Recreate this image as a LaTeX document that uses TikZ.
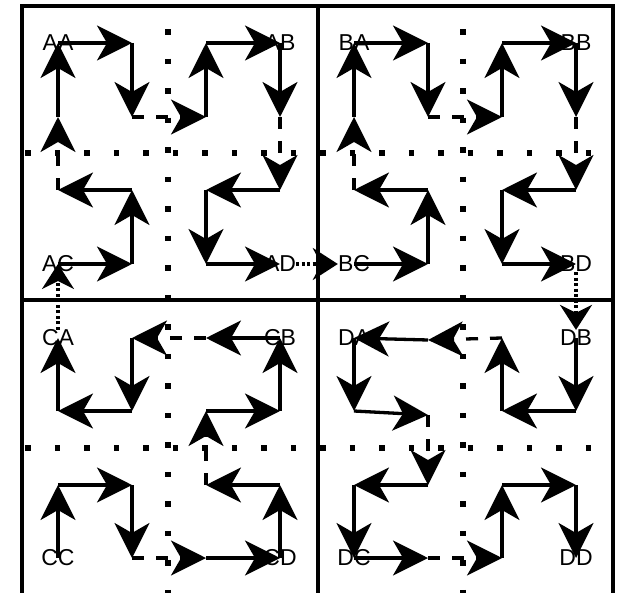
\documentclass[tikz,border=0pt]{standalone}
\usepackage{fontspec}
\setmainfont{Liberation Sans}
\usetikzlibrary{arrows.meta}
\begin{document}
\begin{tikzpicture}[x=1pt,y=-1pt,
  frame/.style={line width=3.4pt},
  gridline/.style={line width=5.5pt, dash pattern=on 5.5pt off 24pt},
  seg/.style={line width=3.3pt, -{Stealth[length=35pt,width=35pt,inset=10pt]}},
  dseg/.style={seg, dash pattern=on 12pt off 12pt},
  tseg/.style={line width=3.3pt, dash pattern=on 3pt off 2.5pt, -{Stealth[length=25pt,width=32pt,inset=8pt]}},
  lbl/.style={inner sep=0pt, font=\fontsize{23}{27}\selectfont}]
\useasboundingbox (0,0) rectangle (620,593);
% dotted grid lines
\draw[gridline] (168,29.25) -- (168,600);
\draw[gridline] (463,29.25) -- (463,600);
\draw[gridline] (25.25,153) -- (595,153);
\draw[gridline] (25.25,448) -- (595,448);
% frame
\draw[frame] (22,600) -- (22,6) -- (613,6) -- (613,600);
\draw[frame] (318,6) -- (318,600);
\draw[frame] (22,300) -- (613,300);
% grid points
\foreach \i/\x in {1/58,2/132,3/206,4/280,5/354,6/428,7/502,8/576}{
  \foreach \j/\y in {1/43,2/117,3/190,4/264,5/338,6/411,7/485,8/558}{
    \coordinate (p\i\j) at (\x,\y);
  }
}
\coordinate (p65) at (428,340);
\coordinate (p66) at (428,415);
% labels
\node[lbl] (tAA) at (p11) {AA};
\node[lbl] (tAB) at (p41) {AB};
\node[lbl] (tAC) at (p14) {AC};
\node[lbl] (tAD) at (p44) {AD};
\node[lbl] (tBA) at (p51) {BA};
\node[lbl] (tBB) at (p81) {BB};
\node[lbl] (tBC) at (p54) {BC};
\node[lbl] (tBD) at (p84) {BD};
\node[lbl] (tCA) at (p15) {CA};
\node[lbl] (tCB) at (p45) {CB};
\node[lbl] (tCC) at (p18) {CC};
\node[lbl] (tCD) at (p48) {CD};
\node[lbl] (tDA) at (p55) {DA};
\node[lbl] (tDB) at (p85) {DB};
\node[lbl] (tDC) at (p58) {DC};
\node[lbl] (tDD) at (p88) {DD};
% solid segments
\foreach \a/\b in {18/17,17/27,27/28, 38/48,48/47,47/37, 36/46,46/45,45/35,
  25/26,26/16,16/15, 14/24,24/23,23/13, 12/11,11/21,21/22, 32/31,31/41,41/42,
  43/33,33/34,34/44, 54/64,64/63,63/53, 52/51,51/61,61/62, 72/71,71/81,81/82,
  83/73,73/74,74/84, 85/86,86/76,76/75, 65/55,55/56,56/66, 67/57,57/58,58/68,
  78/77,77/87,87/88}
  \draw[seg] (p\a) -- (p\b);
% dashed segments
\foreach \a/\b in {28/38,37/36,35/25,13/12,22/32,42/43,53/52,62/72,82/83,75/65,66/67,68/78}
  \draw[dseg] (p\a) -- (p\b);
% dotted connectors between quadrants
\draw[tseg] (tCA) -- (tAC.center);
\draw[tseg] (tAD) -- (tBC);
\draw[tseg] (tBD) -- (tDB);
\end{tikzpicture}
\end{document}
